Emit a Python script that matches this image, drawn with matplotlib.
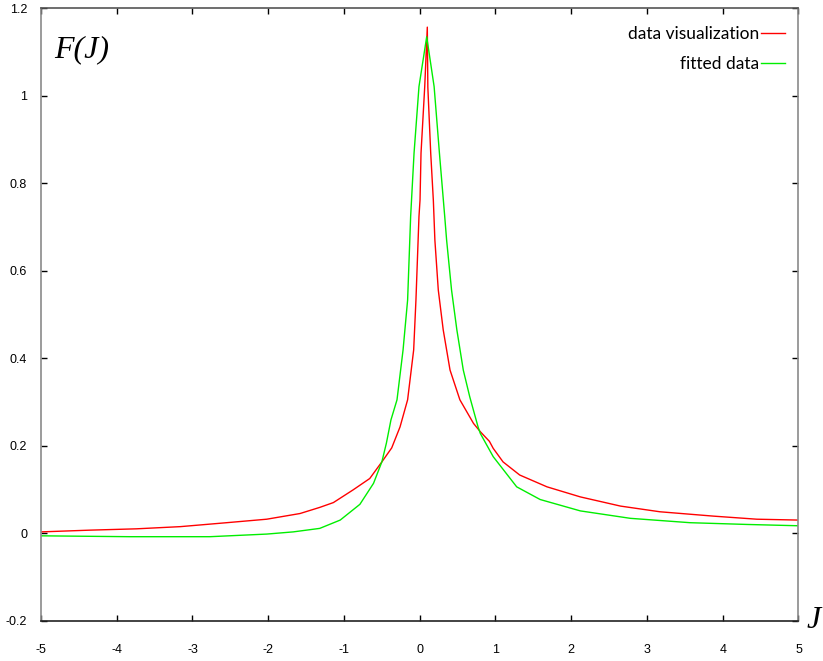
"""
Peak profile F(J): measured data against the fitted curve.
"""
import matplotlib
matplotlib.use('Agg')
import matplotlib.pyplot as plt  # type: ignore
from matplotlib.ticker import FormatStrFormatter, MultipleLocator

# measured data (red)
data_j = [-5.00, -4.35, -3.74, -3.16, -2.55, -2.02, -1.58, -1.32, -1.14,
          -0.88, -0.66, -0.50, -0.37, -0.26, -0.16, -0.08, -0.05, -0.01,
          0.004, 0.017, 0.066, 0.10, 0.107, 0.145, 0.18, 0.20, 0.245, 0.31,
          0.40, 0.53, 0.71, 0.80, 0.92, 0.97, 1.10, 1.32, 1.68, 2.12, 2.65,
          3.17, 3.88, 4.45, 5.00]
data_f = [0.003, 0.007, 0.010, 0.015, 0.024, 0.032, 0.045, 0.059, 0.070,
          0.099, 0.125, 0.163, 0.195, 0.243, 0.305, 0.419, 0.533, 0.724,
          0.762, 0.869, 1.021, 1.157, 1.020, 0.869, 0.760, 0.670, 0.556,
          0.465, 0.373, 0.305, 0.251, 0.232, 0.210, 0.194, 0.163, 0.133,
          0.106, 0.083, 0.062, 0.049, 0.039, 0.032, 0.030]

# fitted curve (green)
fit_j = [-5.00, -3.83, -2.77, -2.02, -1.67, -1.32, -1.05, -0.79, -0.61,
         -0.50, -0.44, -0.38, -0.30, -0.22, -0.16, -0.12, -0.075, -0.01,
         0.092, 0.19, 0.26, 0.33, 0.355, 0.42, 0.49, 0.575, 0.66, 0.77,
         0.80, 0.97, 1.28, 1.59, 2.12, 2.78, 3.57, 4.32, 5.00]
fit_f = [-0.006, -0.008, -0.008, -0.002, 0.003, 0.011, 0.030, 0.066, 0.114,
         0.163, 0.206, 0.259, 0.305, 0.419, 0.533, 0.724, 0.869, 1.021,
         1.135, 1.021, 0.869, 0.724, 0.670, 0.556, 0.465, 0.373, 0.312,
         0.243, 0.228, 0.175, 0.106, 0.077, 0.051, 0.034, 0.024, 0.020,
         0.017]

series_labels = ['data visualization', 'fitted data']

plt.rcParams['axes.unicode_minus'] = False

figure = plt.figure(figsize=(8.23, 6.61), dpi=100)
axes = figure.add_axes([0.0498, 0.061, 0.9204, 0.9264])

axes.plot(data_j, data_f, color='#ff0000', linewidth=1.0,
          label=series_labels[0])
axes.plot(fit_j, fit_f, color='#00ee00', linewidth=1.0,
          label=series_labels[1])

axes.set_xlim(-5, 5)
axes.set_ylim(-0.2, 1.2)
axes.xaxis.set_major_locator(MultipleLocator(1))
axes.yaxis.set_major_locator(MultipleLocator(0.2))
axes.yaxis.set_major_formatter(FormatStrFormatter('%g'))
axes.xaxis.set_major_formatter(FormatStrFormatter('%g'))

axes.tick_params(direction='in', length=4, width=1, top=True, right=True,
                 labelsize=9, colors='black')
axes.tick_params(axis='x', pad=17)
axes.tick_params(axis='y', pad=10)
for tick in axes.get_xticklabels() + axes.get_yticklabels():
    tick.set_fontfamily('Liberation Sans')

axes.spines['left'].set_color('#8a8a8a')
axes.spines['right'].set_color('#8a8a8a')
axes.spines['top'].set_color('#555555')
axes.spines['bottom'].set_color('#222222')
for spine in axes.spines.values():
    spine.set_linewidth(1.2)

axes.text(0.018, 0.932, 'F(J)', transform=axes.transAxes,
          family='Liberation Serif', style='italic', fontsize=23,
          ha='left', va='center')
figure.text(807 / 823, 40 / 661, 'J', family='Liberation Serif',
            style='italic', fontsize=23, ha='left', va='center')

axes.legend(loc='upper right', bbox_to_anchor=(0.982, 0.971),
            markerfirst=False, frameon=False, borderpad=0,
            borderaxespad=0, handlelength=1.35, handletextpad=0.12,
            labelspacing=0.8, prop={'family': 'Lato', 'size': 12.5})

figure.savefig('out.png', dpi=100)
